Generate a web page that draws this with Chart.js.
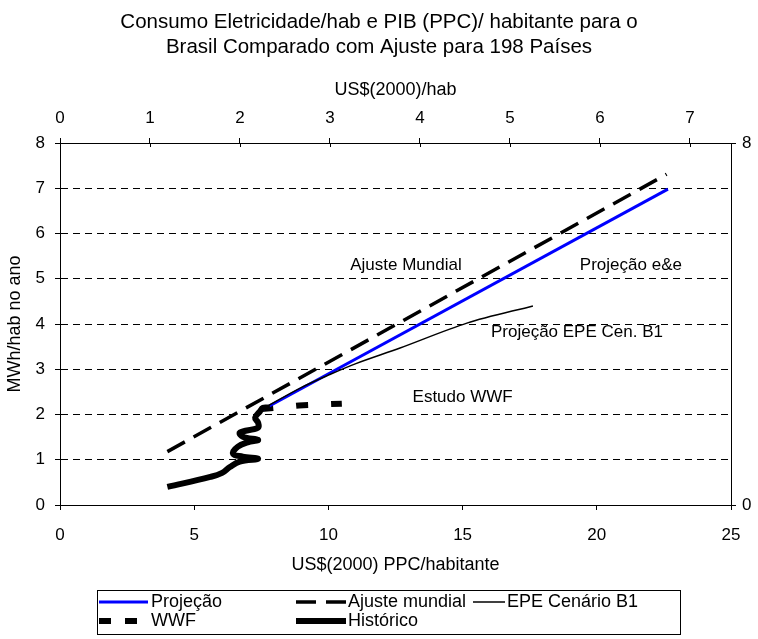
<!DOCTYPE html>
<html>
<head>
<meta charset="utf-8">
<script src="https://cdn.jsdelivr.net/npm/chart.js@4.4.0/dist/chart.umd.min.js"></script>
<style>
  body { margin: 0; background: #fff; }
</style>
</head>
<body>
<canvas id="myChart" width="758" height="639"></canvas>
<script>

// series (x = US$(2000) PPC/hab, y = MWh/hab)
const projX = [7.56, 22.65];
const projY = [2.11, 6.98];

const ajusteX = [4.0, 22.6];
const ajusteY = [1.18, 7.31];

const epeX = [7.56, 9.0, 10.0, 11.0, 12.67, 15.16, 17.62];
const epeY = [2.13, 2.6, 2.87, 3.12, 3.47, 4.02, 4.4];

const wwfX = [7.5, 8.9, 10.5];
const wwfY = [2.12, 2.2, 2.24];

const histX = [4.0, 5.6, 6.04, 6.33, 6.7, 7.38, 6.81, 6.45, 6.63, 7.08, 7.38, 6.81, 6.7, 7.38, 7.38, 7.27, 7.45, 7.56, 7.82];
const histY = [0.40, 0.62, 0.71, 0.84, 0.96, 1.02, 1.07, 1.13, 1.29, 1.40, 1.44, 1.51, 1.60, 1.71, 1.82, 1.93, 2.07, 2.15, 2.15];

// tick labels
const bottomTicks = [0, 5, 10, 15, 20, 25];
const topTicks = [0, 1, 2, 3, 4, 5, 6, 7];
const leftTicks = [0, 1, 2, 3, 4, 5, 6, 7, 8];
const rightTicks = [0, 8];

// text notes inside the plot
const noteText = ['Ajuste Mundial', 'Projeção e&e', 'Projeção EPE Cen. B1', 'Estudo WWF'];
const noteX = [12.89, 21.27, 19.26, 15.0];
const noteY = [5.30, 5.30, 3.82, 2.39];

const fam = "'Liberation Sans', Arial, sans-serif";

function pts(xs, ys) {
  return xs.map((x, i) => ({ x: x, y: ys[i] }));
}

function setTicks(list) {
  return scale => { scale.ticks = list.map(v => ({ value: v })); };
}

const notesPlugin = {
  id: 'notes',
  afterDatasetsDraw(chart) {
    const ctx = chart.ctx;
    const sx = chart.scales.x, sy = chart.scales.y;
    ctx.save();
    ctx.fillStyle = '#000';
    ctx.font = '17px ' + fam;
    ctx.textAlign = 'center';
    ctx.textBaseline = 'middle';
    noteText.forEach((t, i) => {
      ctx.fillText(t, sx.getPixelForValue(noteX[i]), sy.getPixelForValue(noteY[i]));
    });
    // small inner tick marks on the top axis
    const top = chart.scales.xTop;
    ctx.strokeStyle = '#000';
    ctx.lineWidth = 1;
    top.ticks.forEach(t => {
      const px = Math.round(top.getPixelForValue(t.value)) + 0.5;
      ctx.beginPath();
      ctx.moveTo(px, chart.chartArea.top);
      ctx.lineTo(px, chart.chartArea.top + 4);
      ctx.stroke();
    });
    ctx.restore();
  }
};

const boxLegend = {
  id: 'boxLegend',
  afterDraw(chart) {
    const ctx = chart.ctx;
    ctx.save();
    ctx.strokeStyle = '#000';
    ctx.lineWidth = 1;
    ctx.strokeRect(97.5, 590.5, 583, 44);
    // [line start, line end, text x, row y]
    const slots = [[99, 148, 151, 602], [296, 346, 348, 602], [473, 505, 507, 602], [99, 137, 151, 621], [296, 346, 348, 621]];
    chart.data.datasets.forEach((ds, i) => {
      const s = slots[i];
      ctx.beginPath();
      ctx.strokeStyle = ds.borderColor;
      ctx.lineWidth = ds.borderWidth;
      ctx.setLineDash(ds.legendDash || ds.borderDash || []);
      ctx.moveTo(s[0], s[3]);
      ctx.lineTo(s[1], s[3]);
      ctx.stroke();
      ctx.setLineDash([]);
      ctx.fillStyle = '#000';
      ctx.font = '18px ' + fam;
      ctx.textAlign = 'left';
      ctx.textBaseline = 'middle';
      ctx.fillText(ds.label, s[2], s[3]);
    });
    ctx.restore();
  }
};

const tickFont = { family: fam, size: 17 };
const titleFont = { family: fam, size: 18 };

new Chart(document.getElementById('myChart'), {
  type: 'scatter',
  data: {
    datasets: [
      { label: 'Projeção', data: pts(projX, projY), showLine: true, borderColor: '#0000ff', borderWidth: 3, pointRadius: 0, order: 3 },
      { label: 'Ajuste mundial', data: pts(ajusteX, ajusteY), showLine: true, borderColor: '#000', borderWidth: 3.5, borderDash: [20, 10], pointRadius: 0, order: 2 },
      { label: 'EPE Cenário B1', data: pts(epeX, epeY), showLine: true, borderColor: '#000', borderWidth: 1.5, pointRadius: 0, tension: 0.3, order: 1 },
      { label: 'WWF', data: pts(wwfX, wwfY), showLine: true, borderColor: '#000', borderWidth: 6, borderDash: [12, 23], legendDash: [12, 14], pointRadius: 0, order: 4 },
      { label: 'Histórico', data: pts(histX, histY), showLine: true, borderColor: '#000', borderWidth: 6, pointRadius: 0, tension: 0.4, order: 0 }
    ]
  },
  options: {
    responsive: false,
    animation: false,
    layout: { padding: { left: 0, right: 0, top: 0, bottom: 59 } },
    plugins: {
      legend: { display: false },
      tooltip: { enabled: false },
      title: {
        display: true,
        text: ['Consumo Eletricidade/hab e PIB (PPC)/ habitante para o', 'Brasil Comparado com Ajuste para 198 Países'],
        color: '#000',
        font: { family: fam, size: 20.5, weight: 'normal', lineHeight: 1.22 },
        padding: { top: 10, bottom: 0 }
      }
    },
    scales: {
      x: {
        type: 'linear', position: 'bottom', min: 0, max: 25,
        afterBuildTicks: setTicks(bottomTicks),
        afterFit: s => { s.height = 75; },
        ticks: { color: '#000', font: tickFont, padding: 15, maxRotation: 0 },
        grid: { drawOnChartArea: false, tickLength: 5, tickColor: '#000' },
        border: { display: true, color: '#000', width: 1 },
        title: { display: true, text: 'US$(2000) PPC/habitante', color: '#000', font: titleFont, padding: { top: 0, bottom: 4 } }
      },
      xTop: {
        type: 'linear', position: 'top', min: 0, max: 7.456,
        afterBuildTicks: setTicks(topTicks),
        afterFit: s => { s.height = 83; },
        ticks: { color: '#000', font: tickFont, padding: 10, maxRotation: 0 },
        grid: { drawOnChartArea: false, tickLength: 5, tickColor: '#000' },
        border: { display: true, color: '#000', width: 1 },
        title: { display: true, text: 'US$(2000)/hab', color: '#000', font: titleFont, padding: { top: 19, bottom: 0 } }
      },
      y: {
        type: 'linear', position: 'left', min: 0, max: 8,
        afterBuildTicks: setTicks(leftTicks),
        afterFit: s => { s.width = 60; },
        ticks: { color: '#000', font: tickFont, padding: 10 },
        grid: {
          color: c => (c.tick && (c.tick.value === 0 || c.tick.value === 8)) ? 'rgba(0,0,0,0)' : '#000',
          lineWidth: 1, tickLength: 5, tickColor: '#000'
        },
        border: { display: true, color: '#000', width: 1, dash: [7, 5] },
        title: { display: true, text: 'MWh/hab no ano', color: '#000', font: titleFont, padding: { top: 4, bottom: 0 } }
      },
      yRight: {
        type: 'linear', position: 'right', min: 0, max: 8,
        afterBuildTicks: setTicks(rightTicks),
        afterFit: s => { s.width = 27; },
        ticks: { color: '#000', font: tickFont, padding: 6 },
        grid: { drawOnChartArea: false, tickLength: 5, tickColor: '#000' },
        border: { display: true, color: '#000', width: 1 }
      }
    }
  },
  plugins: [notesPlugin, boxLegend]
});

</script>
</body>
</html>
